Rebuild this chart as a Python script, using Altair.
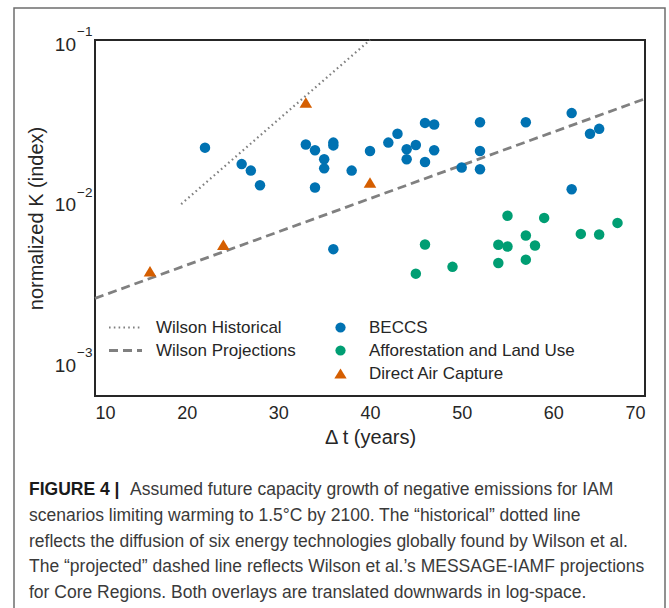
import altair as alt
import pandas as pd

# ---------------- data ----------------
beccs_t = [22, 26, 27, 28, 33, 34, 34, 35, 35, 36, 36, 36, 38, 40, 42, 43, 44, 44,
           45, 46, 46, 47, 47, 50, 52, 52, 52, 57, 62, 62, 64, 65]
beccs_k = [0.0214, 0.0169, 0.0154, 0.0125, 0.0224, 0.0206, 0.0121, 0.0181, 0.0159,
           0.0230, 0.0221, 0.0050, 0.0154, 0.0204, 0.0230, 0.0261, 0.0209, 0.0181,
           0.0222, 0.0305, 0.0174, 0.0298, 0.0206, 0.0161, 0.0308, 0.0204, 0.0157,
           0.0308, 0.0351, 0.0118, 0.0261, 0.0280]

affor_t = [45, 46, 49, 54, 54, 55, 55, 57, 57, 58, 59, 63, 65, 67]
affor_k = [0.00352, 0.00534, 0.00388, 0.00532, 0.00410, 0.00807, 0.00519, 0.00608,
           0.00430, 0.00527, 0.00782, 0.00622, 0.00616, 0.00728]

dac_t = [16, 24, 33, 40]
dac_k = [0.00364, 0.00532, 0.0409, 0.0130]

categories = ["BECCS", "Afforestation and Land Use", "Direct Air Capture"]
cat_colors = ["#0072B2", "#009E73", "#D55E00"]
cat_shapes = ["circle", "circle", "M0,-1L1.2,1L-1.2,1Z"]

line_names = ["Wilson Historical", "Wilson Projections"]
hist_t = [19.4, 40.0]
hist_k = [0.00953, 0.1]
proj_t = [10.0, 70.0]
proj_k = [0.00247, 0.0431]

ytick_vals = [0.1, 0.01, 0.001]
ytick_exp = ["\u22121", "\u22122", "\u22123"]
xtick_vals = [10, 20, 30, 40, 50, 60, 70]

caption_bold = "FIGURE 4 |"
caption_first = "Assumed future capacity growth of negative emissions for IAM"
caption_rest = [
    "scenarios limiting warming to 1.5\u00b0C by 2100. The \u201chistorical\u201d dotted line",
    "reflects the diffusion of six energy technologies globally found by Wilson et al.",
    "The \u201cprojected\u201d dashed line reflects Wilson et al.\u2019s MESSAGE-IAMF projections",
    "for Core Regions. Both overlays are translated downwards in log-space.",
]

# ---------------- tables ----------------
pts = pd.DataFrame({
    "t": beccs_t + affor_t + dac_t,
    "K": beccs_k + affor_k + dac_k,
    "cat": [categories[0]] * len(beccs_t) + [categories[1]] * len(affor_t)
           + [categories[2]] * len(dac_t),
})
lines = pd.DataFrame({
    "t": hist_t + proj_t,
    "K": hist_k + proj_k,
    "line": [line_names[0]] * 2 + [line_names[1]] * 2,
})
yt = pd.DataFrame({"K": ytick_vals, "exp": ytick_exp})

FONT = "Liberation Sans"
TXT = "#262626"
YT = "normalized K (index)"
XT = "\u0394 t (years)"
CAP_SIZE = 17.5

xscale = alt.Scale(domain=[10, 70], nice=False, zero=False)
yscale = alt.Scale(type="log", domain=[0.00061, 0.1], nice=False)
xaxis = alt.Axis(values=xtick_vals, tickSize=0, domain=False, grid=False,
                 labelFontSize=18, labelColor=TXT, labelPadding=8, labelFont=FONT,
                 titleFontSize=20, titleFontWeight="normal", titleColor=TXT,
                 titleFont=FONT, titlePadding=5)
yaxis = alt.Axis(labels=False, ticks=False, domain=False, grid=False,
                 titleFontSize=20, titleFontWeight="normal", titleColor=TXT,
                 titleFont=FONT, titlePadding=49)

X = alt.X("t:Q", scale=xscale, axis=xaxis, title=XT)
Y = alt.Y("K:Q", scale=yscale, axis=yaxis, title=YT)

border = alt.Chart(pd.DataFrame({"a": [0]})).mark_rect(
    fill=None, stroke="#6e6e6e", strokeWidth=1.5
).encode(
    x=alt.value(-81), x2=alt.value(570), y=alt.value(-32), y2=alt.value(600)
)

line_layer = alt.Chart(lines).mark_line().encode(
    x=X, y=Y,
    detail="line:N",
    color=alt.value("#808080"),
    strokeWidth=alt.StrokeWidth("line:N", scale=alt.Scale(domain=line_names, range=[2.2, 2.8]),
                                legend=None),
    strokeDash=alt.StrokeDash(
        "line:N",
        scale=alt.Scale(domain=line_names, range=[[1.6, 3.2], [9, 5]]),
        legend=alt.Legend(
            title=None, orient="none", legendX=22, legendY=279,
            symbolType="M-3,0L3,0", symbolSize=121, symbolStrokeColor="#808080",
            symbolStrokeWidth=2.4, symbolFillColor="transparent",
            labelFontSize=17, labelFont=FONT, labelColor=TXT, labelOffset=22,
            labelLimit=0, rowPadding=5, padding=0,
        ),
    ),
)

pt_legend = alt.Legend(
    title=None, orient="none", legendX=237, legendY=279,
    symbolSize=105, labelFontSize=17, labelFont=FONT, labelLimit=0,
    labelColor=TXT, labelOffset=20, rowPadding=5, padding=0,
    symbolOpacity=1,
)

point_layer = alt.Chart(pts).mark_point(filled=True, size=110, opacity=1).encode(
    x=X, y=Y,
    color=alt.Color("cat:N", scale=alt.Scale(domain=categories, range=cat_colors),
                    legend=pt_legend),
    shape=alt.Shape("cat:N", scale=alt.Scale(domain=categories, range=cat_shapes),
                    legend=pt_legend),
)

ylab_base = alt.Chart(yt).mark_text(
    text="10", align="right", baseline="alphabetic", fontSize=19, font=FONT,
    color=TXT, dy=10.5
).encode(x=alt.value(-19), y=alt.Y("K:Q", scale=yscale, axis=yaxis, title=YT))

ylab_exp = alt.Chart(yt).mark_text(
    align="left", baseline="alphabetic", fontSize=13.5, font=FONT, color=TXT, dy=-4
).encode(x=alt.value(-18), y=alt.Y("K:Q", scale=yscale, axis=yaxis, title=YT),
         text="exp:N")

cap_df = pd.DataFrame({"a": [0]})
cap_bold = alt.Chart(cap_df).mark_text(
    text=caption_bold, align="left", baseline="alphabetic", fontSize=CAP_SIZE,
    font=FONT, fontWeight="bold", color="#1a1a1a"
).encode(x=alt.value(29 - 95), y=alt.value(495 - 40))

cap_first = alt.Chart(cap_df).mark_text(
    text=caption_first, align="left", baseline="alphabetic", fontSize=CAP_SIZE,
    font=FONT, color="#3a3a3a"
).encode(x=alt.value(130 - 95), y=alt.value(495 - 40))

cap_rest = alt.Chart(cap_df).mark_text(
    text=caption_rest, align="left", baseline="alphabetic", fontSize=CAP_SIZE,
    font=FONT, color="#3a3a3a", lineHeight=25.5
).encode(x=alt.value(29 - 95), y=alt.value(521 - 40))

chart = alt.layer(
    border, line_layer, point_layer, ylab_base, ylab_exp, cap_bold, cap_first, cap_rest
).properties(
    width=550, height=356,
    autosize=alt.AutoSizeParams(type="none"),
    padding={"left": 95, "top": 40, "right": 24, "bottom": 212},
    background="white",
).configure_view(
    stroke="#262626", strokeWidth=2
)

chart.save("out.html", embed_options={"renderer": "svg", "actions": False})
